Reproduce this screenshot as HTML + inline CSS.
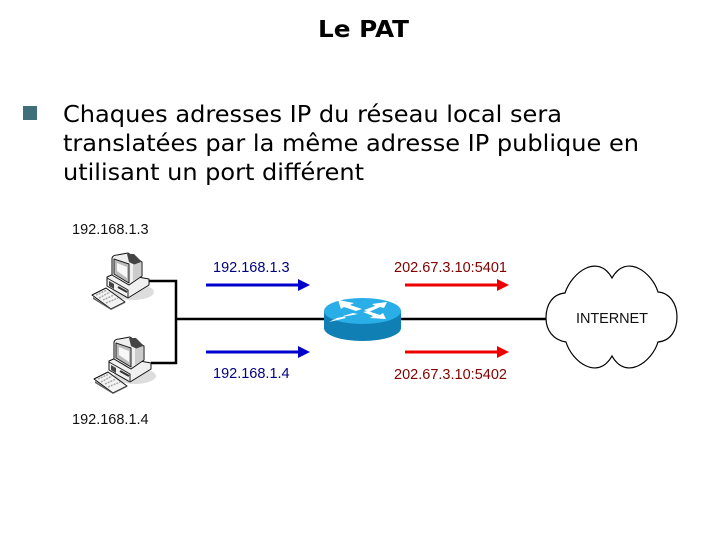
<!DOCTYPE html>
<html><head><meta charset="utf-8"><style>html,body{margin:0;padding:0;background:#fff}svg{display:block}</style></head><body>
<svg width="720" height="540" viewBox="0 0 720 540" xmlns="http://www.w3.org/2000/svg">
<defs>
<g id="pc" stroke-linejoin="round">
<ellipse cx="133" cy="292" rx="21" ry="8" fill="#ddd"/>
<path d="M92 295L106 288L125 302L111 309Z" fill="#f4f4f4" stroke="#111" stroke-width="1"/>
<path d="M96 295L107 290M99 298L110 292M103 300L114 295M106 303L118 298" stroke="#aaa" stroke-width="1.5" stroke-dasharray="2 1"/>
<path d="M93 297V299L111 310L125 303V302L111 309Z" fill="#666"/>
<path d="M107 277L116 273L149 279V285L128 298L107 286Z" fill="#f0f0f0" stroke="#111" stroke-width="1"/>
<path d="M107 278L128 290V297" fill="none" stroke="#222" stroke-width="1"/>
<path d="M109 281L114 284V289L109 286Z" fill="#444"/>
<path d="M118 287L127 292" stroke="#333" stroke-width="2"/>
<path d="M112 258Q113 255 117 255L128 253L142 262V276L129 285L112 275Z" fill="#efefef" stroke="#111" stroke-width="1"/>
<path d="M114 259L129 264V283L114 274Z" fill="#bbb" stroke="#222" stroke-width="1"/>
<path d="M117 263L127 267V278L117 271Z" fill="#f7f7f7"/>
<path d="M127 254L134 254L142 262L135 265L129 262Z" fill="#444"/>
<path d="M133 265L141 262V276L133 281Z" fill="#ccc"/>
</g>
</defs>

<text x="318" y="37" font-family="'DejaVu Sans',sans-serif" font-weight="bold" font-size="23" textLength="91" lengthAdjust="spacingAndGlyphs" fill="#000">Le PAT</text>

<rect x="23" y="106" width="14" height="14" fill="#3f6f78"/>
<g font-family="'DejaVu Sans',sans-serif" font-size="23" fill="#000">
<text x="63" y="122" textLength="499" lengthAdjust="spacingAndGlyphs">Chaques adresses IP du réseau local sera</text>
<text x="63" y="151" textLength="576" lengthAdjust="spacingAndGlyphs">translatées par la même adresse IP publique en</text>
<text x="63" y="180" textLength="301" lengthAdjust="spacingAndGlyphs">utilisant un port différent</text>
</g>

<path d="M149 281H176V363H151M176 319H547" fill="none" stroke="#000" stroke-width="2.5"/>

<use href="#pc"/>
<use href="#pc" transform="translate(2,84)"/>

<path d="M324 311V328A38.5 13 0 0 0 401 328V311Z" fill="#0f7fb4"/>
<ellipse cx="362.5" cy="311" rx="38.5" ry="13" fill="#29aee8"/>
<path d="M338 300L354 303L350 305L362 309L356 311L344 307L341 309Z" fill="#fff"/>
<path d="M387 302L372 304L375 306L364 310L369 312L380 307L384 308Z" fill="#fff"/>
<path d="M338 320L355 316L352 314L362 311L367 312L346 316Z" fill="#fff" transform="translate(-9,2)"/>
<path d="M386 319L370 318L373 316L363 312L368 311L380 315L383 313Z" fill="#fff"/>

<path d="M546 318C546 304 553 294 565 293C572 272 598 253 612 278C626 253 652 272 658 292C670 293 677 304 677 317C677 331 670 341 658 342C652 362 626 381 612 356C598 381 572 362 566 342C553 340 546 330 546 318Z" fill="#fff" stroke="#000" stroke-width="1.2"/>

<g stroke-width="3">
<path d="M206 285H300" stroke="#0000cc"/>
<path d="M206 352H300" stroke="#0000cc"/>
<path d="M405 285H499" stroke="#ee0000"/>
<path d="M405 352H499" stroke="#ee0000"/>
</g>
<path d="M298 279L310 285L298 291ZM298 346L310 352L298 358Z" fill="#0000cc"/>
<path d="M497 279L509 285L497 291ZM497 346L509 352L497 358Z" fill="#ee0000"/>

<g font-family="'Liberation Sans',sans-serif" font-size="14.5">
<text x="72" y="234" fill="#111">192.168.1.3</text>
<text x="72" y="424" fill="#111">192.168.1.4</text>
<text x="213" y="272" fill="#000080">192.168.1.3</text>
<text x="213" y="378" fill="#000080">192.168.1.4</text>
<text x="394" y="272" fill="#800000" textLength="113">202.67.3.10:5401</text>
<text x="394" y="379" fill="#800000" textLength="113">202.67.3.10:5402</text>
<text x="576" y="323" fill="#111" textLength="72">INTERNET</text>
</g>
</svg>
</body></html>
